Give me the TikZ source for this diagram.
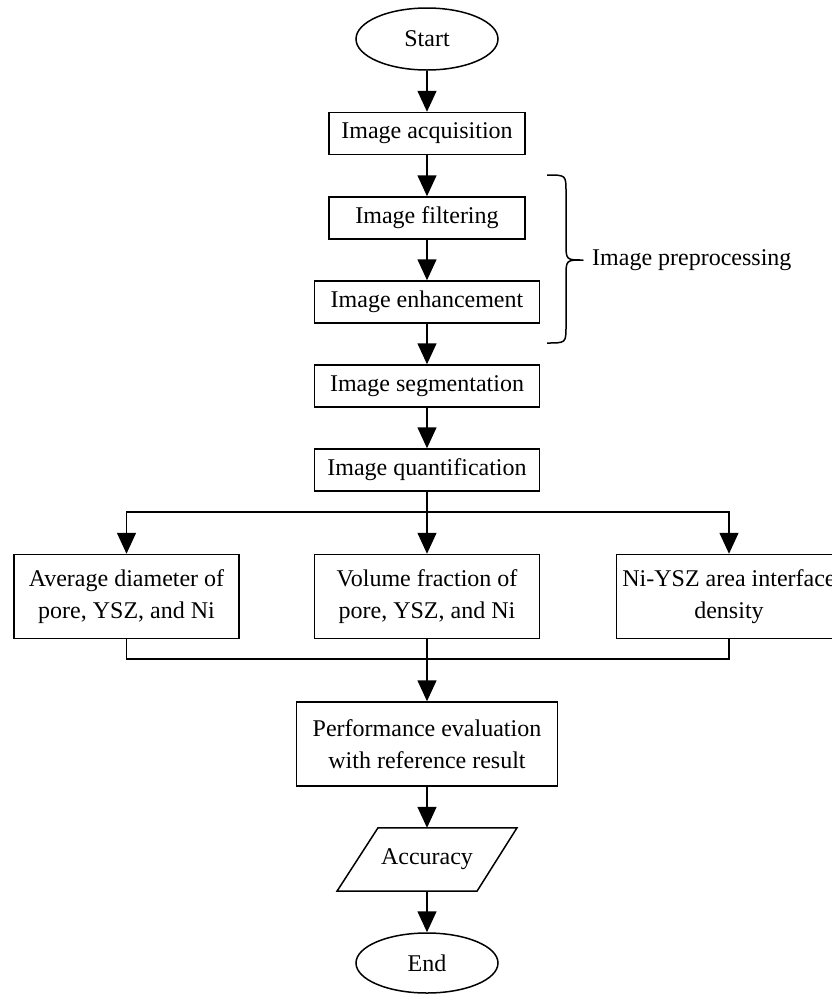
\documentclass[tikz,border=0pt]{standalone}
\usepackage{fontspec}
\setmainfont{Liberation Serif}
\usetikzlibrary{arrows.meta,shapes.geometric}
\begin{document}
\begin{tikzpicture}[x=1pt,y=-1pt,
  every node/.style={font=\fontsize{24}{32}\selectfont, inner sep=0pt, align=center},
  procbox/.style={draw, line width=1.5pt, rectangle, minimum width=#1, minimum height=42pt},
  bigbox/.style={draw, line width=1.5pt, rectangle, minimum width=#1, minimum height=84pt},
  term/.style={draw, line width=1.5pt, ellipse, minimum width=142pt, minimum height=62pt},
  flow/.style={line width=1.5pt, -{Triangle[length=21pt,width=19pt]}},
  link/.style={line width=1.5pt},
  bracestyle/.style={line width=1.5pt, line join=round}
]
\useasboundingbox (0,0) rectangle (832,994);
\clip (0,0) rectangle (832,994);

\node[term] (start) at (427,39) {Start};
\node[procbox=196pt] (acq) at (427,133.5) {Image acquisition};
\node[procbox=196pt] (filt) at (427,218) {Image filtering};
\node[procbox=225pt] (enh) at (427,302) {Image enhancement};
\node[procbox=225pt] (seg) at (427,386) {Image segmentation};
\node[procbox=225pt] (quant) at (427,470) {Image quantification};

\node[bigbox=225pt] (avg) at (126.5,596.5) {Average diameter of\\pore, YSZ, and Ni};
\node[bigbox=225pt] (vol) at (427,596.5) {Volume fraction of\\pore, YSZ, and Ni};
\node[bigbox=225pt] (ni) at (729,596.5) {Ni-YSZ area interface\\density};

\node[bigbox=261pt] (perf) at (427,744) {Performance evaluation\\with reference result};

\node[minimum width=139pt, minimum height=63pt] (acc) at (427,859.5) {Accuracy};
\draw[link] ([xshift=-49pt]acc.north) -- ([xshift=90pt]acc.north) -- ([xshift=50pt]acc.south) -- ([xshift=-90pt]acc.south) -- cycle;

\node[term, minimum height=60pt] (end) at (427,963) {End};

\draw[flow] (start) -- (acq);
\draw[flow] (acq) -- (filt);
\draw[flow] (filt) -- (enh);
\draw[flow] (enh) -- (seg);
\draw[flow] (seg) -- (quant);

\coordinate (split) at (427,512);
\coordinate (merge) at (427,659);
\draw[flow] (quant) -- (vol);
\draw[flow] (split) -| (avg.north);
\draw[flow] (split) -| (ni.north);
\draw[link] (avg.south) |- (merge);
\draw[link] (ni.south) |- (merge);
\draw[flow] (vol.south) -- (perf.north);
\draw[flow] (perf) -- (acc.north);
\draw[flow] (acc.south) -- (end);

\coordinate (bracetop) at (547,175);
\coordinate (bracetip) at (583,260);
\coordinate (bracebot) at (547,343);
\draw[bracestyle] (bracetop) .. controls (566,175) .. (566,192) -- (566,243)
  .. controls (566,260) .. (bracetip) .. controls (566,260) .. (566,277)
  -- (566,326) .. controls (566,343) .. (bracebot);
\node[anchor=west] (prep) at (592,260) {Image preprocessing};
\end{tikzpicture}
\end{document}
